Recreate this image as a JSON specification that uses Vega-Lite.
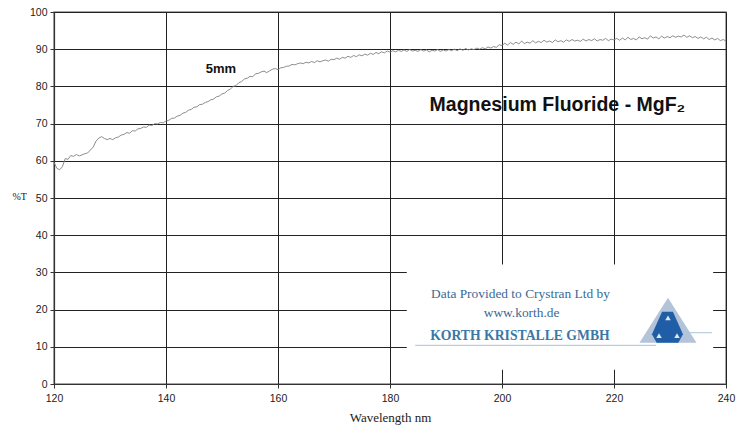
{
  "$schema": "https://vega.github.io/schema/vega-lite/v6.json",
  "width": 672,
  "height": 372,
  "autosize": {"type": "none"},
  "padding": {"left": 54, "top": 12, "right": 11, "bottom": 44},
  "background": "white",
  "config": {
    "view": {"stroke": "#8a8a8a", "strokeWidth": 1.5},
    "axis": {
      "gridColor": "#222222", "gridOpacity": 1, "gridWidth": 1,
      "domainColor": "#333333", "domainWidth": 1.2,
      "tickColor": "#333333", "tickSize": 4,
      "labelColor": "#222222", "labelFont": "Liberation Sans", "labelFontSize": 10.5,
      "labelOverlap": false, "labelFlush": false,
      "titleColor": "#222222", "titleFont": "Liberation Serif", "titleFontWeight": "normal"
    }
  },
  "encoding": {
    "x": {"field": "wavelength", "type": "quantitative",
          "scale": {"domain": [120, 240], "nice": false, "zero": false},
          "axis": {"values": [120, 140, 160, 180, 200, 220, 240], "tickCount": 20, "grid": true,
                   "labelPadding": 5, "title": "Wavelength nm", "titleFontSize": 13,
                   "titleBaseline": "middle", "titleY": 33, "titlePadding": 0}},
    "y": {"field": "T", "type": "quantitative",
          "scale": {"domain": [0, 100], "nice": false, "zero": true},
          "axis": {"values": [0, 10, 20, 30, 40, 50, 60, 70, 80, 90, 100], "tickCount": 20, "grid": true,
                   "labelPadding": 3, "title": "%T", "titleAngle": 0, "titleFontSize": 10,
                   "titleAlign": "left", "titleBaseline": "middle", "titleX": -42, "titleY": 184}}
  },
  "datasets": {
    "curve": [
      {"wavelength":120.0,"T":59.6},{"wavelength":120.5,"T":58.0},{"wavelength":121.0,"T":57.6},{"wavelength":121.5,"T":58.4},
      {"wavelength":122.0,"T":60.6},{"wavelength":122.5,"T":60.4},{"wavelength":123.0,"T":61.4},{"wavelength":123.5,"T":61.2},
      {"wavelength":124.0,"T":61.7},{"wavelength":124.5,"T":61.3},{"wavelength":125.0,"T":61.6},{"wavelength":125.5,"T":61.9},
      {"wavelength":126.0,"T":62.1},{"wavelength":126.5,"T":62.9},{"wavelength":127.0,"T":63.7},{"wavelength":127.5,"T":65.3},
      {"wavelength":128.0,"T":66.1},{"wavelength":128.5,"T":66.5},{"wavelength":129.0,"T":66.0},{"wavelength":129.5,"T":65.7},
      {"wavelength":130.0,"T":66.0},{"wavelength":130.5,"T":65.7},{"wavelength":131.0,"T":66.2},{"wavelength":131.5,"T":66.4},
      {"wavelength":132.0,"T":66.9},{"wavelength":132.5,"T":67.1},{"wavelength":133.0,"T":67.6},{"wavelength":133.5,"T":67.4},
      {"wavelength":134.0,"T":68.1},{"wavelength":134.5,"T":68.0},{"wavelength":135.0,"T":68.6},{"wavelength":135.5,"T":68.7},
      {"wavelength":136.0,"T":69.1},{"wavelength":136.5,"T":69.0},{"wavelength":137.0,"T":69.6},{"wavelength":137.5,"T":69.5},
      {"wavelength":138.0,"T":70.0},{"wavelength":138.5,"T":69.9},{"wavelength":139.0,"T":70.3},{"wavelength":139.5,"T":70.2},
      {"wavelength":140.0,"T":70.7},{"wavelength":140.5,"T":70.9},{"wavelength":141.0,"T":71.4},{"wavelength":141.5,"T":71.5},
      {"wavelength":142.0,"T":72.0},{"wavelength":142.5,"T":72.2},{"wavelength":143.0,"T":72.8},{"wavelength":143.5,"T":73.0},
      {"wavelength":144.0,"T":73.6},{"wavelength":144.5,"T":73.8},{"wavelength":145.0,"T":74.4},{"wavelength":145.5,"T":74.5},
      {"wavelength":146.0,"T":75.1},{"wavelength":146.5,"T":75.2},{"wavelength":147.0,"T":75.7},{"wavelength":147.5,"T":75.9},
      {"wavelength":148.0,"T":76.4},{"wavelength":148.5,"T":76.6},{"wavelength":149.0,"T":77.2},{"wavelength":149.5,"T":77.4},
      {"wavelength":150.0,"T":78.0},{"wavelength":150.5,"T":78.2},{"wavelength":151.0,"T":78.9},{"wavelength":151.5,"T":79.3},
      {"wavelength":152.0,"T":80.0},{"wavelength":152.5,"T":80.2},{"wavelength":153.0,"T":81.0},{"wavelength":153.5,"T":81.3},
      {"wavelength":154.0,"T":82.0},{"wavelength":154.5,"T":82.2},{"wavelength":155.0,"T":82.7},{"wavelength":155.5,"T":82.6},
      {"wavelength":156.0,"T":83.4},{"wavelength":156.5,"T":83.5},{"wavelength":157.0,"T":83.9},{"wavelength":157.5,"T":84.1},
      {"wavelength":158.0,"T":83.7},{"wavelength":158.5,"T":84.2},{"wavelength":159.0,"T":84.6},{"wavelength":159.5,"T":84.8},
      {"wavelength":160.0,"T":84.5},{"wavelength":160.5,"T":85.0},{"wavelength":161.0,"T":85.1},{"wavelength":161.5,"T":85.4},
      {"wavelength":162.0,"T":85.5},{"wavelength":162.5,"T":85.9},{"wavelength":163.0,"T":85.8},{"wavelength":163.5,"T":86.1},
      {"wavelength":164.0,"T":86.3},{"wavelength":164.5,"T":86.1},{"wavelength":165.0,"T":86.5},{"wavelength":165.5,"T":86.3},
      {"wavelength":166.0,"T":86.7},{"wavelength":166.5,"T":86.4},{"wavelength":167.0,"T":86.9},{"wavelength":167.5,"T":86.6},
      {"wavelength":168.0,"T":86.9},{"wavelength":168.5,"T":87.1},{"wavelength":169.0,"T":86.8},{"wavelength":169.5,"T":87.3},
      {"wavelength":170.0,"T":87.2},{"wavelength":170.5,"T":87.6},{"wavelength":171.0,"T":87.3},{"wavelength":171.5,"T":87.8},
      {"wavelength":172.0,"T":87.6},{"wavelength":172.5,"T":88.1},{"wavelength":173.0,"T":87.8},{"wavelength":173.5,"T":88.3},
      {"wavelength":174.0,"T":88.0},{"wavelength":174.5,"T":88.5},{"wavelength":175.0,"T":88.2},{"wavelength":175.5,"T":88.7},
      {"wavelength":176.0,"T":88.4},{"wavelength":176.5,"T":88.9},{"wavelength":177.0,"T":88.6},{"wavelength":177.5,"T":89.1},
      {"wavelength":178.0,"T":88.8},{"wavelength":178.5,"T":89.3},{"wavelength":179.0,"T":89.0},{"wavelength":179.5,"T":89.5},
      {"wavelength":180.0,"T":89.2},{"wavelength":180.5,"T":89.6},{"wavelength":181.0,"T":89.3},{"wavelength":181.5,"T":89.7},
      {"wavelength":182.0,"T":89.4},{"wavelength":182.5,"T":89.8},{"wavelength":183.0,"T":89.4},{"wavelength":183.5,"T":89.9},
      {"wavelength":184.0,"T":89.5},{"wavelength":184.5,"T":89.7},{"wavelength":185.0,"T":89.4},{"wavelength":185.5,"T":89.9},
      {"wavelength":186.0,"T":89.5},{"wavelength":186.5,"T":89.8},{"wavelength":187.0,"T":89.3},{"wavelength":187.5,"T":89.7},
      {"wavelength":188.0,"T":89.5},{"wavelength":188.5,"T":89.9},{"wavelength":189.0,"T":89.4},{"wavelength":189.5,"T":89.8},
      {"wavelength":190.0,"T":89.5},{"wavelength":190.5,"T":89.9},{"wavelength":191.0,"T":89.6},{"wavelength":191.5,"T":90.0},
      {"wavelength":192.0,"T":89.6},{"wavelength":192.5,"T":90.1},{"wavelength":193.0,"T":89.7},{"wavelength":193.5,"T":90.2},
      {"wavelength":194.0,"T":89.8},{"wavelength":194.5,"T":90.1},{"wavelength":195.0,"T":89.9},{"wavelength":195.5,"T":90.3},
      {"wavelength":196.0,"T":90.0},{"wavelength":196.5,"T":90.4},{"wavelength":197.0,"T":90.1},{"wavelength":197.5,"T":90.6},
      {"wavelength":198.0,"T":90.3},{"wavelength":198.5,"T":90.7},{"wavelength":199.0,"T":90.5},{"wavelength":199.5,"T":91.2},
      {"wavelength":200.0,"T":91.0},{"wavelength":200.5,"T":91.6},{"wavelength":201.0,"T":91.1},{"wavelength":201.5,"T":91.8},
      {"wavelength":202.0,"T":91.3},{"wavelength":202.5,"T":91.9},{"wavelength":203.0,"T":91.4},{"wavelength":203.5,"T":92.2},
      {"wavelength":204.0,"T":91.5},{"wavelength":204.5,"T":91.9},{"wavelength":205.0,"T":91.6},{"wavelength":205.5,"T":92.3},
      {"wavelength":206.0,"T":91.7},{"wavelength":206.5,"T":92.1},{"wavelength":207.0,"T":91.8},{"wavelength":207.5,"T":92.4},
      {"wavelength":208.0,"T":91.9},{"wavelength":208.5,"T":92.2},{"wavelength":209.0,"T":91.8},{"wavelength":209.5,"T":92.5},
      {"wavelength":210.0,"T":92.0},{"wavelength":210.5,"T":92.3},{"wavelength":211.0,"T":91.9},{"wavelength":211.5,"T":92.5},
      {"wavelength":212.0,"T":92.1},{"wavelength":212.5,"T":92.6},{"wavelength":213.0,"T":92.2},{"wavelength":213.5,"T":92.4},
      {"wavelength":214.0,"T":92.1},{"wavelength":214.5,"T":92.7},{"wavelength":215.0,"T":92.2},{"wavelength":215.5,"T":92.6},
      {"wavelength":216.0,"T":92.3},{"wavelength":216.5,"T":92.8},{"wavelength":217.0,"T":92.2},{"wavelength":217.5,"T":92.6},
      {"wavelength":218.0,"T":92.4},{"wavelength":218.5,"T":92.9},{"wavelength":219.0,"T":92.3},{"wavelength":219.5,"T":92.7},
      {"wavelength":220.0,"T":92.5},{"wavelength":220.5,"T":92.9},{"wavelength":221.0,"T":92.4},{"wavelength":221.5,"T":93.0},
      {"wavelength":222.0,"T":92.5},{"wavelength":222.5,"T":93.2},{"wavelength":223.0,"T":92.6},{"wavelength":223.5,"T":92.9},
      {"wavelength":224.0,"T":92.5},{"wavelength":224.5,"T":93.3},{"wavelength":225.0,"T":92.8},{"wavelength":225.5,"T":93.1},
      {"wavelength":226.0,"T":92.7},{"wavelength":226.5,"T":93.6},{"wavelength":227.0,"T":93.0},{"wavelength":227.5,"T":93.3},
      {"wavelength":228.0,"T":92.8},{"wavelength":228.5,"T":93.5},{"wavelength":229.0,"T":93.0},{"wavelength":229.5,"T":93.4},
      {"wavelength":230.0,"T":93.1},{"wavelength":230.5,"T":93.6},{"wavelength":231.0,"T":93.2},{"wavelength":231.5,"T":93.5},
      {"wavelength":232.0,"T":93.3},{"wavelength":232.5,"T":93.8},{"wavelength":233.0,"T":93.2},{"wavelength":233.5,"T":93.6},
      {"wavelength":234.0,"T":93.1},{"wavelength":234.5,"T":93.4},{"wavelength":235.0,"T":92.9},{"wavelength":235.5,"T":93.3},
      {"wavelength":236.0,"T":92.8},{"wavelength":236.5,"T":93.2},{"wavelength":237.0,"T":92.6},{"wavelength":237.5,"T":93.0},
      {"wavelength":238.0,"T":92.5},{"wavelength":238.5,"T":92.9},{"wavelength":239.0,"T":92.3},{"wavelength":239.5,"T":92.6},
      {"wavelength":240.0,"T":92.2}
    ]
  },
  "layer": [
    {
      "data": {"name": "curve"},
      "mark": {"type": "line", "color": "#808080", "strokeWidth": 0.9}
    },
    {
      "data": {"values": [{"wavelength": 183.0, "wavelength2": 237.7, "T": 3.8, "T2": 32.1}]},
      "mark": {"type": "rect", "fill": "white"},
      "encoding": {
        "x2": {"field": "wavelength2"},
        "y2": {"field": "T2"}
      }
    },
    {
      "data": {"values": [{"wavelength": 184.5, "wavelength2": 227.5, "T": 10.4}, {"wavelength": 233.0, "wavelength2": 237.5, "T": 13.8}]},
      "mark": {"type": "rule", "color": "#b9cde0", "strokeWidth": 1.2},
      "encoding": {
        "x2": {"field": "wavelength2"}
      }
    },
    {
      "data": {"values": [{"wavelength": 229.64, "T": 17.15}]},
      "mark": {"type": "point", "shape": "M0,-0.79L1,0.79L-1,0.79Z", "size": 3249, "filled": true, "color": "#b3c3d8", "opacity": 1}
    },
    {
      "data": {"values": [{"wavelength": 229.55, "T": 15.27}]},
      "mark": {"type": "point", "shape": "M-0.35,-1L0.35,-1L1,0.45L0.7,1L-0.7,1L-1,0.45Z", "size": 961, "filled": true, "color": "#1f5ea6", "opacity": 1}
    },
    {
      "data": {"values": [{"wavelength": 229.64, "T": 17.8}, {"wavelength": 228.04, "T": 13.0}, {"wavelength": 231.25, "T": 13.0}]},
      "mark": {"type": "point", "shape": "triangle-up", "size": 30, "filled": true, "color": "#dfe8f3", "opacity": 1}
    },
    {
      "data": {"values": [{"wavelength": 203.3, "T": 24.3, "label": "Data Provided to Crystran Ltd by"}, {"wavelength": 203.5, "T": 19.2, "label": "www.korth.de"}]},
      "mark": {"type": "text", "font": "Liberation Serif", "fontSize": 13.4, "color": "#3a6a96", "align": "center", "baseline": "middle"},
      "encoding": {"text": {"field": "label"}}
    },
    {
      "data": {"values": [{"wavelength": 203.2, "T": 13.0, "label": "KORTH KRISTALLE GMBH"}]},
      "mark": {"type": "text", "font": "Liberation Serif", "fontSize": 13.7, "fontWeight": "bold", "color": "#3b78a8", "align": "center", "baseline": "middle"},
      "encoding": {"text": {"field": "label"}}
    },
    {
      "data": {"values": [{"wavelength": 209.9, "T": 75.1, "label": "Magnesium Fluoride - MgF₂"}]},
      "mark": {"type": "text", "font": "Liberation Sans", "fontSize": 19.5, "fontWeight": "bold", "color": "#111111", "align": "center", "baseline": "middle"},
      "encoding": {"text": {"field": "label"}}
    },
    {
      "data": {"values": [{"wavelength": 149.8, "T": 84.8, "label": "5mm"}]},
      "mark": {"type": "text", "font": "Liberation Sans", "fontSize": 13, "fontWeight": "bold", "color": "#111111", "align": "center", "baseline": "middle"},
      "encoding": {"text": {"field": "label"}}
    }
  ]
}
